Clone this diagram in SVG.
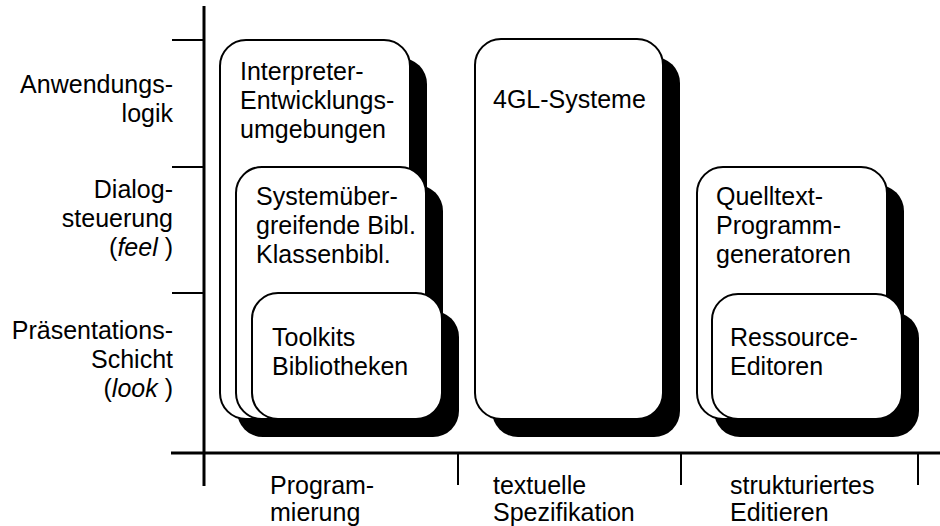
<svg xmlns="http://www.w3.org/2000/svg" width="940" height="526" viewBox="0 0 940 526">
  <style>
    text { font-family: "Liberation Sans", Arial, sans-serif; font-size: 25px; fill: #000; }
    .r { text-anchor: end; }
    .card { fill: #fff; stroke: #000; stroke-width: 2; }
    .shadow { fill: #000; }
    .axis { stroke: #000; stroke-width: 3; fill: none; }
    .tick { stroke: #000; stroke-width: 2; fill: none; }
  </style>
  <rect width="940" height="526" fill="#fff"/>

  <!-- axes and tick marks -->
  <g id="connectors">
    <line class="axis" x1="204" y1="6" x2="204" y2="486"/>
    <line class="axis" x1="171" y1="453" x2="940" y2="453"/>
    <line class="tick" x1="172" y1="40" x2="204" y2="40"/>
    <line class="tick" x1="172" y1="167" x2="204" y2="167"/>
    <line class="tick" x1="172" y1="293" x2="204" y2="293"/>
    <line class="tick" x1="458" y1="453" x2="458" y2="485"/>
    <line class="tick" x1="681" y1="453" x2="681" y2="485"/>
    <line class="tick" x1="918" y1="453" x2="918" y2="485"/>
  </g>

  <!-- row labels -->
  <g id="row-logic">
    <text class="r" x="173" y="93">Anwendungs-</text>
    <text class="r" x="173" y="122">logik</text>
  </g>
  <g id="row-dialog">
    <text class="r" x="173" y="198">Dialog-</text>
    <text class="r" x="173" y="227">steuerung</text>
    <text class="r" x="173" y="256">(<tspan font-style="italic">feel</tspan> )</text>
  </g>
  <g id="row-presentation">
    <text class="r" x="173" y="339">Präsentations-</text>
    <text class="r" x="173" y="368">Schicht</text>
    <text class="r" x="173" y="397">(<tspan font-style="italic">look</tspan> )</text>
  </g>

  <!-- column labels -->
  <g id="col-programming">
    <text x="270" y="494">Program-</text>
    <text x="270" y="521">mierung</text>
  </g>
  <g id="col-textual">
    <text x="493" y="494">textuelle</text>
    <text x="493" y="521">Spezifikation</text>
  </g>
  <g id="col-structured">
    <text x="730" y="494">strukturiertes</text>
    <text x="730" y="521">Editieren</text>
  </g>

  <!-- programming column -->
  <g id="interpreter">
    <rect class="shadow" x="237" y="58" width="190" height="379" rx="26"/>
    <rect class="card" x="220" y="40" width="190" height="379" rx="26"/>
    <text x="240" y="80">Interpreter-</text>
    <text x="240" y="109">Entwicklungs-</text>
    <text x="240" y="138">umgebungen</text>
  </g>
  <g id="class-libs">
    <rect class="shadow" x="253" y="185" width="190" height="252" rx="26"/>
    <rect class="card" x="236" y="167" width="190" height="252" rx="26"/>
    <text x="256" y="205">Systemüber-</text>
    <text x="256" y="234">greifende Bibl.</text>
    <text x="256" y="263">Klassenbibl.</text>
  </g>
  <g id="toolkits">
    <rect class="shadow" x="269" y="311" width="190" height="126" rx="26"/>
    <rect class="card" x="252" y="293" width="190" height="126" rx="26"/>
    <text x="272" y="346">Toolkits</text>
    <text x="272" y="375">Bibliotheken</text>
  </g>

  <!-- textual specification column -->
  <g id="fourgl">
    <rect class="shadow" x="492" y="57" width="188" height="380" rx="26"/>
    <rect class="card" x="475" y="39" width="188" height="380" rx="26"/>
    <text x="493" y="108">4GL-Systeme</text>
  </g>

  <!-- structured editing column -->
  <g id="generators">
    <rect class="shadow" x="714" y="185" width="190" height="252" rx="26"/>
    <rect class="card" x="697" y="167" width="190" height="252" rx="26"/>
    <text x="716" y="205">Quelltext-</text>
    <text x="716" y="234">Programm-</text>
    <text x="716" y="263">generatoren</text>
  </g>
  <g id="resource-editors">
    <rect class="shadow" x="729" y="312" width="190" height="125" rx="26"/>
    <rect class="card" x="712" y="294" width="190" height="125" rx="26"/>
    <text x="730" y="346">Ressource-</text>
    <text x="730" y="375">Editoren</text>
  </g>
</svg>
